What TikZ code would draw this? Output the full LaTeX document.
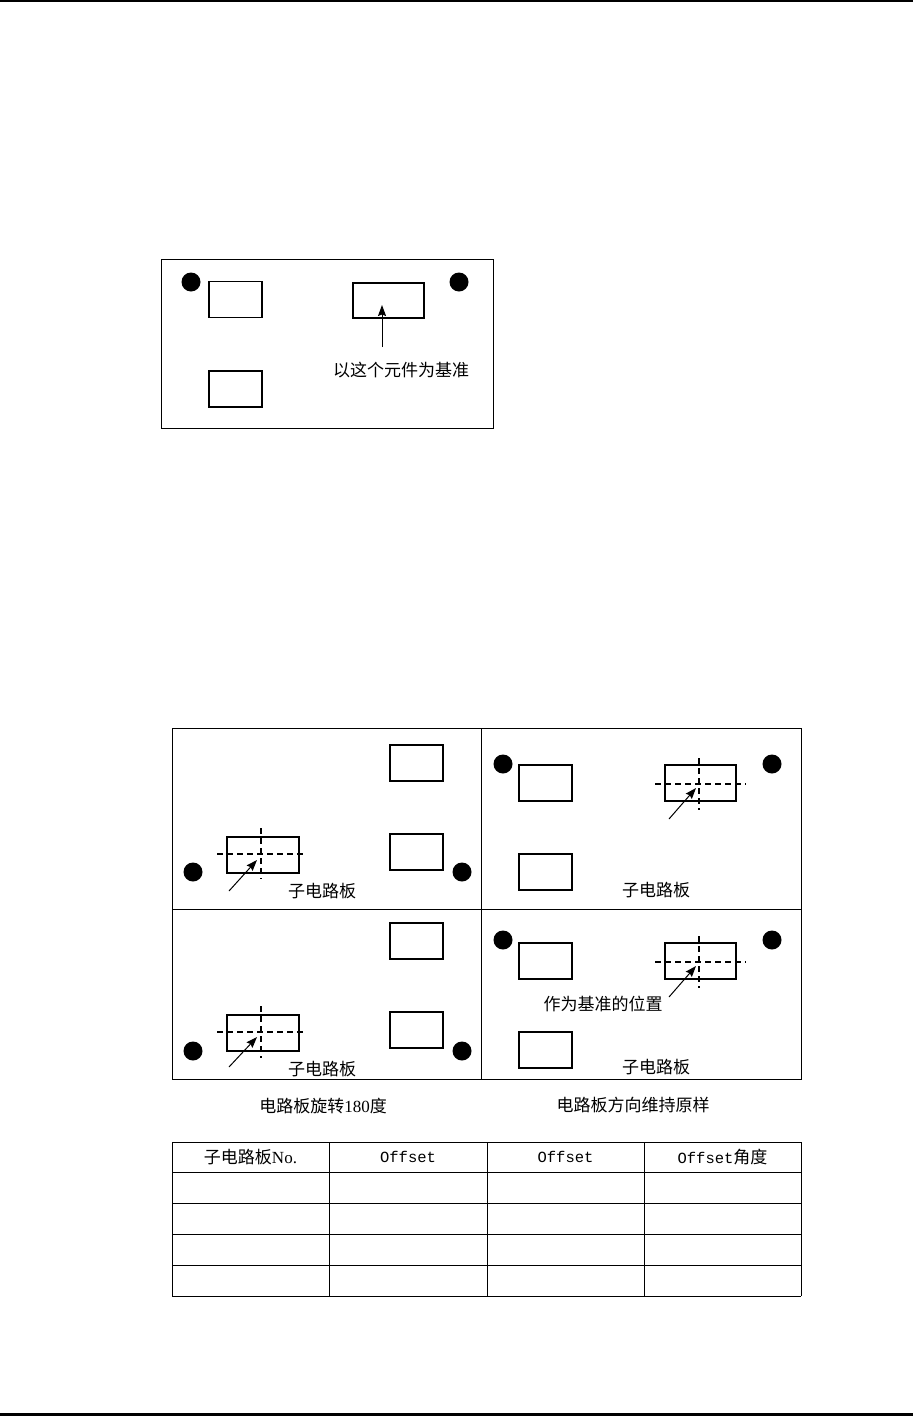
\documentclass[tikz,border=0pt]{standalone}
\usepackage{fontspec}
\setmainfont{Liberation Serif}
\newfontfamily\cjk{Noto Sans CJK SC}
\newfontfamily\monof{Liberation Mono}
\usetikzlibrary{arrows.meta}
\begin{document}
\begin{tikzpicture}[x=1pt,y=-1pt,line width=1.1pt,
  comp/.style={draw,minimum width=53pt,minimum height=36pt,inner sep=0pt},
  refcomp/.style={draw,minimum width=72pt,minimum height=36pt,inner sep=0pt},
  hole/.style={circle,fill=black,minimum size=19pt,inner sep=0pt},
  lbl/.style={inner sep=0pt,font=\cjk\fontsize{17}{20}\selectfont},
  monolbl/.style={inner sep=0pt,font=\monof\fontsize{15.5}{18}\selectfont},
  cross/.style={dashed,dash pattern=on 6pt off 4pt,line width=1.1pt},
  ptr/.style={-{Stealth[length=11pt,width=8pt,inset=1.5pt]},line width=1pt},
  frame/.style={draw,line width=1pt}]
\useasboundingbox (0,0) rectangle (913,1416);
% page rules
\draw[line width=2.5pt] (0,1.2) -- (913,1.2);
\draw[line width=2.5pt] (0,1414.5) -- (913,1414.5);

% ---------- Figure 1 ----------
\draw[frame] (161,259) rectangle (493,428);
\node[hole] (f1h1) at (191,282) {};
\node[hole] (f1h2) at (459,282) {};
\node[comp] (f1a) at (235.5,299.5) {};
\node[comp] (f1b) at (235.5,389) {};
\node[refcomp,minimum width=71pt,minimum height=35pt] (f1c) at (388.5,300.5) {};
\draw[line width=1.8pt] (f1c.north east) -- (f1c.south east);
\node[lbl] (f1t) at (401,370) {以这个元件为基准};
\coordinate (f1s) at (382,347);
\coordinate (f1e) at (382,305);
\draw[ptr] (f1s) -- (f1e);

% ---------- Figure 2 grid ----------
\draw[frame] (172,728) rectangle (801,1079);
\draw[frame] (481,728) -- (481,1079);
\draw[frame] (172,909) -- (801,909);

% top-left
\node[comp] (tla) at (416.5,763) {};
\node[comp] (tlb) at (416.5,852) {};
\node[refcomp] (tlc) at (263,855) {};
\draw[cross] (217,854) -- (306,854);
\draw[cross] (261,828) -- (261,879);
\coordinate (tls) at (229,891);
\coordinate (tle) at (257,860);
\draw[ptr] (tls) -- (tle);
\node[hole] (tlh1) at (193,872) {};
\node[hole] (tlh2) at (462,872) {};
\node[lbl] (tlt) at (322,891) {子电路板};

% top-right
\node[hole] (trh1) at (503,764) {};
\node[hole] (trh2) at (772,764) {};
\node[comp] (tra) at (545.5,783) {};
\node[comp] (trb) at (545.5,872) {};
\node[refcomp,minimum width=71pt] (trc) at (700.5,783) {};
\draw[cross] (655,784) -- (746,784);
\draw[cross] (699,758) -- (699,810);
\coordinate (trs) at (669,819);
\coordinate (tre) at (696,788);
\draw[ptr] (trs) -- (tre);
\node[lbl] (trt) at (656,890) {子电路板};

% bottom-left
\node[comp] (bla) at (416.5,941) {};
\node[comp] (blb) at (416.5,1030) {};
\node[refcomp] (blc) at (263,1033) {};
\draw[cross] (217,1032) -- (306,1032);
\draw[cross] (261,1006) -- (261,1058);
\coordinate (bls) at (229,1067);
\coordinate (ble) at (257,1037);
\draw[ptr] (bls) -- (ble);
\node[hole] (blh1) at (193,1051) {};
\node[hole] (blh2) at (462,1051) {};
\node[lbl] (blt) at (322,1069) {子电路板};

% bottom-right
\node[hole] (brh1) at (503,940) {};
\node[hole] (brh2) at (772,940) {};
\node[comp] (bra) at (545.5,961) {};
\node[comp] (brb) at (545.5,1050) {};
\node[refcomp,minimum width=71pt] (brc) at (700.5,961) {};
\draw[cross] (655,962) -- (746,962);
\draw[cross] (699,936) -- (699,988);
\coordinate (brs) at (669,997);
\coordinate (bre) at (696,966);
\draw[ptr] (brs) -- (bre);
\node[lbl] (brl) at (603,1004) {作为基准的位置};
\node[lbl] (brt) at (656,1067) {子电路板};

% captions
\node[lbl] (cap1) at (323,1106) {电路板旋转\rmfamily 180\cjk 度};
\node[lbl] (cap2) at (633,1105) {电路板方向维持原样};

% ---------- table ----------
\foreach \yy in {1142,1172,1203,1234,1265,1296} {\draw[frame] (172,\yy) -- (801,\yy);}
\foreach \xx in {172,329,487,644,801} {\draw[frame] (\xx,1142) -- (\xx,1296);}
\node[lbl] (h1) at (250.5,1157) {子电路板\rmfamily No.};
\node[monolbl] (h2) at (408,1157) {Offset};
\node[monolbl] (h3) at (565.5,1157) {Offset};
\node[monolbl] (h4) at (722.5,1157) {Offset\cjk\fontsize{17}{20}\selectfont 角度};
\end{tikzpicture}
\end{document}
